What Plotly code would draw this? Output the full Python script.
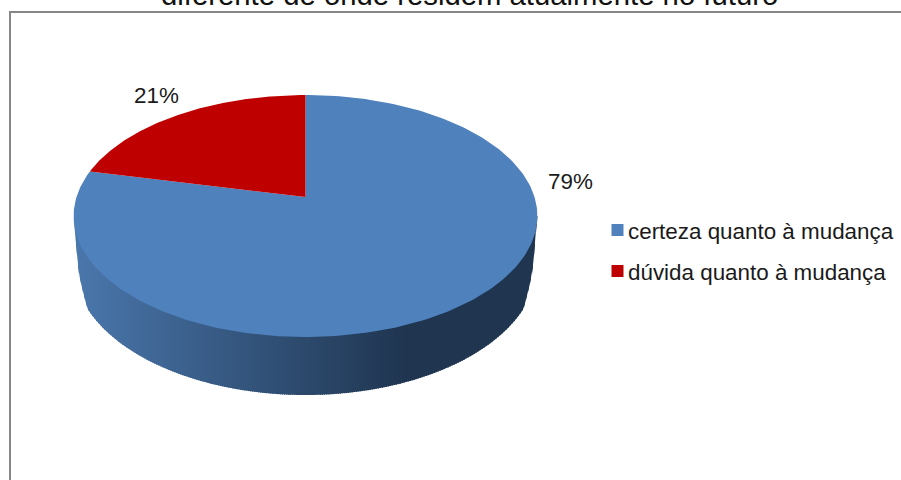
"""Pie 3D de certeza / dúvida quanto à mudança, desenhada com polígonos numa escala em píxeis."""

import numpy as np
import plotly.graph_objects as go

TITLE = "diferente de onde residem atualmente no futuro"
CATEGORIES = ["certeza quanto à mudança", "dúvida quanto à mudança"]
SHARES = [78.6, 21.4]
LABELS = ["79%", "21%"]

W, H = 901, 480
BLUE, RED = "#4F81BD", "#BE0000"
SIDE_LIGHT, SIDE_DARK = (74, 119, 172), (31, 53, 80)
FONT = "Liberation Sans"
INK = "#1a1a1a"

# apex of the pie and perspective of the top disc
CX, CY = 305.5, 197
A, B, K = 229, 118, 0.157
# lower rim of the side wall, plus the steeper corners where it meets the disc
RIM_CY, RIM_RX, RIM_RY = 264, 232, 131
CORNER_DX = [218, 222.5, 227, 232]
CORNER_Y = [309, 292, 272, 216]
MID_Y = 216


def disc(theta):
    """Circle angle (clockwise from 12 o'clock) to page pixels, with perspective."""
    w = 1 + K * np.cos(theta)
    return CX + A * np.sin(theta) / w, CY - B * np.cos(theta) / w


def wedge(start, end):
    t = np.linspace(start, end, 260)
    x, y = disc(t)
    return np.r_[CX, x, CX], np.r_[CY, y, CY]


def rim_y(x):
    dx = abs(x - CX)
    if dx > CORNER_DX[0]:
        return float(np.interp(dx, CORNER_DX, CORNER_Y))
    return RIM_CY + RIM_RY * np.sqrt(1 - (dx / RIM_RX) ** 2)


def side_colour(x):
    f = min(max((x - 74) / (404 - 74), 0), 1)
    c = [round(a + (b - a) * f) for a, b in zip(SIDE_LIGHT, SIDE_DARK)]
    return f"rgb({c[0]},{c[1]},{c[2]})"


fig = go.Figure()

# side wall: narrow overlapping strips make the left to right shading
for x0 in np.arange(74, 537, 2.0):
    xs = np.linspace(x0, min(x0 + 3, 537.5), 4)
    ys = [rim_y(v) for v in xs]
    fig.add_trace(go.Scatter(x=np.r_[xs, xs[::-1]], y=np.r_[ys, [MID_Y] * 4], fill="toself",
                             mode="lines", line_width=0, fillcolor=side_colour(x0),
                             hoverinfo="skip", showlegend=False))

# top of the pie: the red slice ends at 12 o'clock, the blue slice fills the rest
red_angle = 2 * np.pi * SHARES[1] / sum(SHARES)
bx, by = wedge(0, 2 * np.pi - red_angle)
rx, ry = wedge(2 * np.pi - red_angle, 2 * np.pi)
fig.add_trace(go.Scatter(x=bx, y=by, fill="toself", mode="lines", line_width=0,
                         fillcolor=BLUE, name=CATEGORIES[0], showlegend=False))
fig.add_trace(go.Scatter(x=rx, y=ry, fill="toself", mode="lines", line_width=0,
                         fillcolor=RED, name=CATEGORIES[1], showlegend=False))

# legend swatches
fig.add_trace(go.Scatter(x=[617.5, 617.5], y=[230, 271], mode="markers",
                         marker=dict(symbol="square", size=12, color=[BLUE, RED]),
                         hoverinfo="skip", showlegend=False))

for text, x, y in zip(CATEGORIES, [626, 626], [231, 272]):
    fig.add_annotation(x=x, y=y, text=text, showarrow=False, xanchor="left", yanchor="middle",
                       font=dict(family=FONT, size=22.4, color=INK))
for text, x, y in zip(LABELS, [570, 156.5], [181, 95]):
    fig.add_annotation(x=x, y=y, text=text, showarrow=False,
                       font=dict(family=FONT, size=22.4, color=INK))
fig.add_annotation(x=469, y=13, text=TITLE, showarrow=False, yanchor="bottom",
                   font=dict(family=FONT, size=29.3, color="#111111"))

# chart frame, open at the right and bottom of the page
fig.add_shape(type="rect", x0=10, y0=12, x1=W + 20, y1=H + 20,
              line=dict(color="#868686", width=2), layer="below")

fig.update_xaxes(range=[0, W], visible=False)
fig.update_yaxes(range=[H, 0], visible=False)
fig.update_layout(width=W, height=H, margin=dict(l=0, r=0, t=0, b=0),
                  paper_bgcolor="white", plot_bgcolor="white")
# the page's default body margin would push the whole chart 8px down and right
fig.write_html("out.html", config={"displayModeBar": False},
               post_script="document.body.style.margin = '0';")
